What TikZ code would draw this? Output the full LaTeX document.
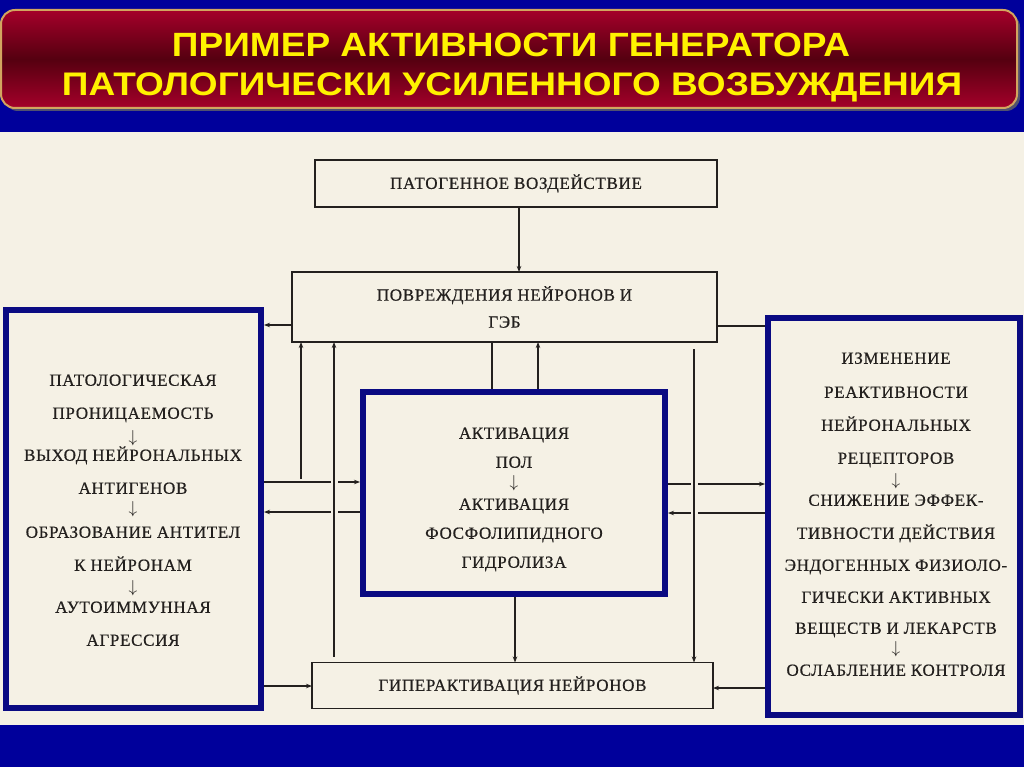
\documentclass[tikz,border=0pt]{standalone}
\usepackage{fontspec}
\usepackage{graphicx}
\setmainfont{Liberation Serif}
\newfontfamily\hdrfont{Liberation Sans}
\newfontfamily\scanfont[LetterSpace=4,FakeBold=0.6]{Liberation Serif}
\usetikzlibrary{arrows.meta,shadows}
\definecolor{bgnavy}{RGB}{0,0,155}
\definecolor{paper}{RGB}{245,241,229}
\definecolor{ink}{RGB}{35,32,30}
\definecolor{boxblue}{RGB}{10,10,130}
\definecolor{hdrred}{RGB}{165,0,42}
\definecolor{hdrdark}{RGB}{85,0,16}
\definecolor{hdrborder}{RGB}{210,165,95}
\begin{document}
\begin{tikzpicture}[x=1pt,y=-1pt,
  hdrbox/.style={rounded corners=14pt, draw=hdrborder, line width=2pt,
    top color=hdrred, bottom color=hdrred, middle color=hdrdark,
    drop shadow={shadow xshift=3pt, shadow yshift=-3pt, fill=black!60, opacity=0.8},
    inner sep=0pt, outer sep=0pt},
  hdrtxt/.style={anchor=base, inner sep=0pt, text=yellow},
  scanbox/.style={draw=ink, line width=1.4pt, inner sep=0pt, outer sep=0pt,
    align=center, font=\scanfont\fontsize{17}{27}\selectfont, text=ink},
  bluebox/.style={draw=boxblue, line width=6pt, inner sep=0pt, outer sep=0pt},
  btxt/.style={inner sep=0pt, text height=11.5pt, text depth=0pt,
    font=\scanfont\fontsize{17}{20}\selectfont, text=ink},
  conn/.style={draw=ink, line width=1.2pt},
  arr/.style={conn, -{Stealth[length=6pt,width=4.5pt]}},
  gap/.style={draw=paper, line width=7pt}
]
\useasboundingbox (0,0) rectangle (1024,767);
\fill[bgnavy] (0,0) rectangle (1024,767);
\fill[paper] (0,132) rectangle (1024,725);

% header
\node[hdrbox, minimum width=1016pt, minimum height=98pt] (hdr) at (509,59) {};
\node[hdrtxt] (t1) at (511,57) {\resizebox{678pt}{23.5pt}{\hdrfont\bfseries ПРИМЕР АКТИВНОСТИ ГЕНЕРАТОРА}};
\node[hdrtxt] (t2) at (512,96) {\resizebox{900pt}{22.8pt}{\hdrfont\bfseries ПАТОЛОГИЧЕСКИ УСИЛЕННОГО ВОЗБУЖДЕНИЯ}};

% scanned boxes
\node[scanbox, minimum width=402pt, minimum height=47pt] (top) at (516,183.5) {ПАТОГЕННОЕ ВОЗДЕЙСТВИЕ};
\node[scanbox, minimum width=425pt, minimum height=70pt] (dmg) at (504.5,307) {ПОВРЕЖДЕНИЯ НЕЙРОНОВ И\\ГЭБ};
\node[scanbox, minimum width=401pt, minimum height=46pt] (hyp) at (512.5,685.5) {ГИПЕРАКТИВАЦИЯ НЕЙРОНОВ};

% blue boxes (positions)
\path (133.5,509) node[minimum width=255pt, minimum height=398pt, inner sep=0pt, outer sep=0pt] (lft) {};
\path (514,493) node[minimum width=302pt, minimum height=202pt, inner sep=0pt, outer sep=0pt] (ctr) {};
\path (894,516.5) node[minimum width=252pt, minimum height=397pt, inner sep=0pt, outer sep=0pt] (rgt) {};

% horizontal connectors
\draw[arr, shorten >=3pt] (dmg.west |- 0,325) -- (lft.east |- 0,325);
\draw[arr, shorten <=3pt, shorten >=3pt] (lft.east |- 0,482) -- (ctr.west |- 0,482);
\draw[arr, shorten <=3pt, shorten >=3pt] (ctr.west |- 0,512) -- (lft.east |- 0,512);
\draw[arr, shorten <=3pt] (lft.east |- 0,686) -- (hyp.west |- 0,686);
\draw[arr, shorten <=3pt, shorten >=3pt] (ctr.east |- 0,484) -- (rgt.west |- 0,484);
\draw[arr, shorten <=3pt, shorten >=3pt] (rgt.west |- 0,513) -- (ctr.east |- 0,513);
\draw[arr, shorten <=3pt] (rgt.west |- 0,688) -- (hyp.east |- 0,688);
\draw[conn, shorten <=3pt] (rgt.west |- 0,326) -- (dmg.east |- 0,326);

% vertical connectors
\coordinate (br) at (301,479);
\draw[arr] (top.south -| 519,0) -- (dmg.north -| 519,0);
\draw[arr] (br) -- (dmg.south -| br);
\draw[gap, shorten <=8pt, shorten >=4pt] (hyp.north -| 334,0) -- (dmg.south -| 334,0);
\draw[arr, shorten <=6pt] (hyp.north -| 334,0) -- (dmg.south -| 334,0);
\draw[conn, shorten >=3pt] (dmg.south -| 492,0) -- (ctr.north -| 492,0);
\draw[arr, shorten <=3pt] (ctr.north -| 538,0) -- (dmg.south -| 538,0);
\draw[arr, shorten <=3pt] (ctr.south -| 515,0) -- (hyp.north -| 515,0);
\draw[gap, shorten <=9pt, shorten >=4pt] (dmg.south -| 694,0) -- (hyp.north -| 694,0);
\draw[arr, shorten <=7pt] (dmg.south -| 694,0) -- (hyp.north -| 694,0);

% blue frames
\node[bluebox, minimum width=255pt, minimum height=398pt] (lftf) at (lft) {};
\node[bluebox, minimum width=302pt, minimum height=202pt] (ctrf) at (ctr) {};
\node[bluebox, minimum width=252pt, minimum height=397pt] (rgtf) at (rgt) {};

% left box text
\foreach \n/\y/\t in {1/380/ПАТОЛОГИЧЕСКАЯ, 2/413/ПРОНИЦАЕМОСТЬ, 3/437/$\downarrow$,
  4/455/ВЫХОД НЕЙРОНАЛЬНЫХ, 5/488/АНТИГЕНОВ, 6/508/$\downarrow$,
  7/532/ОБРАЗОВАНИЕ АНТИТЕЛ, 8/565/К НЕЙРОНАМ, 9/587/$\downarrow$,
  10/607/АУТОИММУННАЯ, 11/640/АГРЕССИЯ}
  \node[btxt] (L\n) at (133,\y) {\t};

% center box text
\foreach \n/\y/\t in {1/433/АКТИВАЦИЯ, 2/462/ПОЛ, 3/482/$\downarrow$,
  4/504/АКТИВАЦИЯ, 5/533/ФОСФОЛИПИДНОГО, 6/562/ГИДРОЛИЗА}
  \node[btxt] (C\n) at (514,\y) {\t};

% right box text
\foreach \n/\y/\t in {1/358/ИЗМЕНЕНИЕ, 2/392/РЕАКТИВНОСТИ, 3/425/НЕЙРОНАЛЬНЫХ,
  4/458/РЕЦЕПТОРОВ, 5/480/$\downarrow$, 6/500/СНИЖЕНИЕ ЭФФЕК-,
  7/533/ТИВНОСТИ ДЕЙСТВИЯ, 8/565/ЭНДОГЕННЫХ ФИЗИОЛО-, 9/597/ГИЧЕСКИ АКТИВНЫХ,
  10/628/ВЕЩЕСТВ И ЛЕКАРСТВ, 11/648/$\downarrow$, 12/670/ОСЛАБЛЕНИЕ КОНТРОЛЯ}
  \node[btxt] (R\n) at (896,\y) {\t};
\end{tikzpicture}
\end{document}
